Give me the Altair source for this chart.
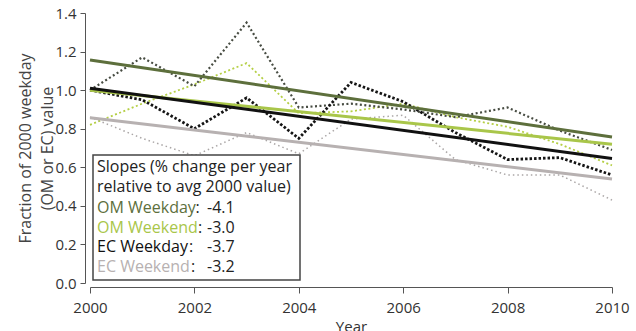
import altair as alt
import pandas as pd

years = [2000, 2001, 2002, 2003, 2004, 2005, 2006, 2007, 2008, 2009, 2010]
om_weekday = [1.00, 1.17, 1.02, 1.35, 0.91, 0.93, 0.90, 0.86, 0.91, 0.79, 0.69]
om_weekend = [0.82, 0.93, 1.03, 1.14, 0.88, 0.89, 0.93, 0.86, 0.81, 0.72, 0.61]
ec_weekday = [1.00, 0.95, 0.80, 0.96, 0.75, 1.04, 0.94, 0.78, 0.64, 0.65, 0.56]
ec_weekend = [0.86, 0.75, 0.66, 0.78, 0.67, 0.85, 0.87, 0.64, 0.56, 0.56, 0.43]

fit_years = [2000, 2010]
fit_om_weekday = [1.156, 0.757]
fit_om_weekend = [1.000, 0.720]
fit_ec_weekday = [1.010, 0.645]
fit_ec_weekend = [0.857, 0.539]

series_names = ["OM Weekday", "OM Weekend", "EC Weekday", "EC Weekend"]
slopes = ["-4.1", "-3.0", "-3.7", "-3.2"]

FONT = "Open Sans"
C_OMWD = "#5d6f3c"
C_OMWE = "#a9c64a"
C_ECWD = "#111111"
C_ECWE = "#b7b1b1"
dot_colors = {"OM Weekday": "#474c42", "OM Weekend": "#b5cf45",
              "EC Weekday": "#151515", "EC Weekend": "#aaa6a6"}
fit_colors = {"OM Weekday": C_OMWD, "OM Weekend": C_OMWE,
              "EC Weekday": C_ECWD, "EC Weekend": C_ECWE}

raw = {"OM Weekday": om_weekday, "OM Weekend": om_weekend,
       "EC Weekday": ec_weekday, "EC Weekend": ec_weekend}
fits = {"OM Weekday": fit_om_weekday, "OM Weekend": fit_om_weekend,
        "EC Weekday": fit_ec_weekday, "EC Weekend": fit_ec_weekend}

x_scale = alt.Scale(domain=[2000, 2010], nice=False, zero=False)
y_scale = alt.Scale(domain=[0, 1.4], nice=False)

x_axis = alt.Axis(values=[2000, 2002, 2004, 2006, 2008, 2010], format="d",
                  title="Year", grid=False, offset=4, tickSize=6, labelFlush=False,
                  labelFontSize=15, titleFontSize=15, labelFont=FONT, titleFont=FONT,
                  labelColor="#333", titleColor="#333", domainColor="#555",
                  tickColor="#555", titleFontWeight="normal", labelPadding=7,
                  titlePadding=4)
y_axis = alt.Axis(values=[0, 0.2, 0.4, 0.6, 0.8, 1.0, 1.2, 1.4], format=".1f",
                  title=["Fraction of 2000 weekday", "(OM or EC) value"],
                  grid=False, offset=5, tickSize=5, labelFlush=False,
                  labelFontSize=15, titleFontSize=16, labelFont=FONT, titleFont=FONT,
                  labelColor="#333", titleColor="#444", domainColor="#555",
                  tickColor="#555", titleFontWeight="normal", labelPadding=4,
                  titlePadding=-1, titleLineHeight=22)

X = alt.X("year:Q", scale=x_scale, axis=x_axis)
Y = alt.Y("value:Q", scale=y_scale, axis=y_axis)

dot_styles = {"OM Weekday": (2.2, [2, 2.5]), "OM Weekend": (1.8, [2, 2.5]),
              "EC Weekday": (2.8, [2.5, 2]), "EC Weekend": (1.5, [1.5, 3])}

layers = []
for name in ["EC Weekend", "OM Weekend", "OM Weekday", "EC Weekday"]:
    df = pd.DataFrame({"year": years, "value": raw[name]})
    sw, dash = dot_styles[name]
    layers.append(alt.Chart(df).mark_line(color=dot_colors[name], strokeWidth=sw,
                                          strokeDash=dash).encode(x=X, y=Y))

for name in ["EC Weekend", "OM Weekday", "OM Weekend", "EC Weekday"]:
    df = pd.DataFrame({"year": fit_years, "value": fits[name]})
    layers.append(alt.Chart(df).mark_line(color=fit_colors[name], strokeWidth=3).encode(
        x=X, y=Y))

# legend box
box = alt.Chart(pd.DataFrame({"a": [0]})).mark_rect(
    fill="white", stroke="#444", strokeWidth=1.5).encode(
    x=alt.value(3), x2=alt.value(210), y=alt.value(142), y2=alt.value(267))
layers.append(box)

header_lines = ["Slopes (% change per year", "relative to avg 2000 value)"]
header_y = [154, 174]
for t, yy in zip(header_lines, header_y):
    layers.append(alt.Chart(pd.DataFrame({"t": [t]})).mark_text(
        align="left", baseline="middle", font=FONT, fontSize=16, color="#222").encode(
        x=alt.value(7), y=alt.value(yy), text="t:N"))

name_colors = [C_OMWD, C_OMWE, C_ECWD, C_ECWE]
row_y = [195, 215, 234, 254]
colon_x = [105.5, 108, 99, 101]
for i, name in enumerate(series_names):
    layers.append(alt.Chart(pd.DataFrame({"t": [name]})).mark_text(
        align="left", baseline="middle", font=FONT, fontSize=16,
        color=name_colors[i]).encode(x=alt.value(7), y=alt.value(row_y[i]), text="t:N"))
    layers.append(alt.Chart(pd.DataFrame({"t": [":"]})).mark_text(
        align="left", baseline="middle", font=FONT, fontSize=16, color="#222").encode(
        x=alt.value(colon_x[i]), y=alt.value(row_y[i]), text="t:N"))
    layers.append(alt.Chart(pd.DataFrame({"t": [slopes[i]]})).mark_text(
        align="left", baseline="middle", font=FONT, fontSize=16, color="#222").encode(
        x=alt.value(117), y=alt.value(row_y[i]), text="t:N"))

chart = alt.layer(*layers).properties(
    width=522, height=270,
    autosize=alt.AutoSizeParams(type="none"),
    padding={"left": 90, "top": 13, "right": 24, "bottom": 48},
    background="white",
).configure_view(stroke=None)

chart.save("out.html", embed_options={"renderer": "svg", "actions": False})
